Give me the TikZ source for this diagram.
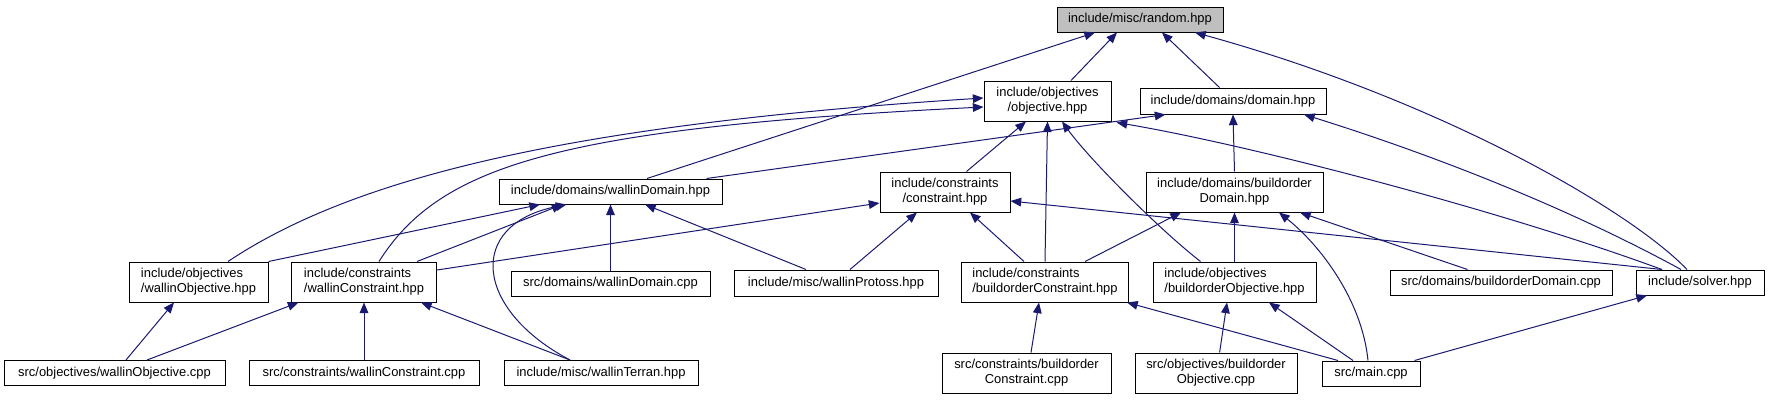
\documentclass[tikz,border=0pt]{standalone}
\usepackage{fontspec}
\setmainfont{Liberation Sans}
\usetikzlibrary{arrows.meta,calc}
\definecolor{edgeblue}{HTML}{191970}
\definecolor{rootgray}{HTML}{BFBFBF}
\begin{document}
\begin{tikzpicture}[x=0.75pt,y=-0.75pt,
  box/.style={draw=black, fill=white, line width=0.75pt, inner sep=0pt,
    font=\fontsize{9.7}{11.3}\selectfont},
  sz/.style 2 args={minimum width=#1*0.75pt, minimum height=#2*0.75pt},
  dep/.style={draw=edgeblue, line width=0.75pt, -{Triangle[length=8pt,width=6.5pt]}}]
\useasboundingbox (0,0) rectangle (1768,400);
% row 1
\node[box, fill=rootgray, sz={166}{25}] (rnd) at (1140,19.5) {include/misc/random.hpp};
% row 2
\node[box, sz={127}{40}, align=center] (obj) at (1047.5,101) {include/objectives\\/objective.hpp};
\node[box, sz={186}{26}] (dom) at (1233,101) {include/domains/domain.hpp};
% row 3
\node[box, sz={223}{25}] (wd) at (610.5,191.5) {include/domains/wallinDomain.hpp};
\node[box, sz={130}{40}, align=center] (con) at (945,192) {include/constraints\\/constraint.hpp};
\node[box, sz={177}{40}, align=center] (bd) at (1234.5,192) {include/domains/buildorder\\Domain.hpp};
% row 4
\node[box, sz={139}{40}, align=left] (wo) at (198.5,282) {include/objectives\\/wallinObjective.hpp};
\node[box, sz={145}{40}, align=left] (wc) at (364,282) {include/constraints\\/wallinConstraint.hpp};
\node[box, sz={199}{25}] (wdc) at (610.5,283.5) {src/domains/wallinDomain.cpp};
\node[box, sz={204}{26}] (wp) at (836,283) {include/misc/wallinProtoss.hpp};
\node[box, sz={167}{40}, align=left] (bc) at (1045,282) {include/constraints\\/buildorderConstraint.hpp};
\node[box, sz={163}{40}, align=left] (bo) at (1234.5,282) {include/objectives\\/buildorderObjective.hpp};
\node[box, sz={222}{25}] (bdc) at (1501,282.5) {src/domains/buildorderDomain.cpp};
\node[box, sz={128}{25}] (sol) at (1700,282.5) {include/solver.hpp};
% row 5
\node[box, sz={221}{25}] (woc) at (114.5,373) {src/objectives/wallinObjective.cpp};
\node[box, sz={230}{25}] (wcc) at (364,373) {src/constraints/wallinConstraint.cpp};
\node[box, sz={194}{25}] (wt) at (601,373) {include/misc/wallinTerran.hpp};
\node[box, sz={169}{40}, align=center] (bcc) at (1026.5,373) {src/constraints/buildorder\\Constraint.cpp};
\node[box, sz={162}{40}, align=center] (boc) at (1216,373) {src/objectives/buildorder\\Objective.cpp};
\node[box, sz={98}{25}] (main) at (1371,373.5) {src/main.cpp};
% edges
\draw[dep] ($(obj.north)+(23.5,0)$) -- ($(rnd.south)+(-23,0)$);
\draw[dep] ($(dom.north)+(-13.5,0)$) -- ($(rnd.south)+(22,0)$);
\draw[dep] ($(wd.north)+(36.5,0)$) -- ($(rnd.south)+(-45,0)$);
\draw[dep] ($(sol.north)+(-13,0)$) .. controls (1630,210) and (1440,100) .. ($(rnd.south)+(55,0)$);
\draw[dep] ($(wo.north)+(29.5,0)$) .. controls (350,180) and (560,125) .. ($(obj.west)+(0,-3)$);
\draw[dep] ($(wc.north)+(15,0)$) .. controls (440,165) and (560,128) .. ($(obj.west)+(0,6)$);
\draw[dep] ($(con.north)+(21.5,0)$) -- ($(obj.south)+(-21.5,0)$);
\draw[dep] (bc.north) -- (obj.south);
\draw[dep] ($(bo.north)+(-34,0)$) .. controls (1160,230) and (1090,160) .. ($(obj.south)+(14.5,0)$);
\draw[dep] ($(sol.north)+(-38,0)$) .. controls (1500,210) and (1250,145) .. ($(obj.south east)+(5,1)$);
\draw[dep] ($(wd.north east)+(-16,0)$) -- ($(dom.south)+(-67.5,0)$);
\draw[dep] (bd.north) -- (dom.south);
\draw[dep] ($(sol.north)+(-19,0)$) .. controls (1561,204) and (1424,152) .. ($(dom.south)+(71,0)$);
\draw[dep] (wo.north east) -- ($(wd.south)+(-70.5,0)$);
\draw[dep] ($(wc.north)+(53,0)$) -- ($(wd.south)+(-48,0)$);
\draw[dep] (wdc.north) -- (wd.south);
\draw[dep] ($(wp.north)+(-30,0)$) -- ($(wd.south)+(34.5,0)$);
\draw[dep] ($(wt.north)+(-31,0)$) .. controls (475,310) and (465,225) .. ($(wd.south)+(-44,0)$);
\draw[dep] ($(wc.east)+(0,-12)$) -- ($(con.west)+(0,11)$);
\draw[dep] ($(wp.north)+(14,0)$) -- ($(con.south)+(-28,0)$);
\draw[dep] ($(bc.north)+(-21,0)$) -- ($(con.south)+(25,0)$);
\draw[dep] ($(sol.north)+(-38,0)$) -- ($(con.east)+(0,9)$);
\draw[dep] ($(bc.north)+(40,0)$) -- ($(bd.south)+(-53.5,0)$);
\draw[dep] (bo.north) -- (bd.south);
\draw[dep] ($(main.north)+(-3,0)$) .. controls (1362,300) and (1320,245) .. ($(bd.south)+(44.5,0)$);
\draw[dep] ($(bdc.north)+(-33.5,0)$) -- ($(bd.south)+(65.5,0)$);
\draw[dep] ($(woc.north)+(11.5,0)$) -- ($(wo.south)+(-24.5,0)$);
\draw[dep] ($(woc.north)+(32.5,0)$) -- ($(wc.south)+(-65.5,0)$);
\draw[dep] (wcc.north) -- (wc.south);
\draw[dep] ($(wt.north)+(-31,0)$) -- ($(wc.south)+(57,0)$);
\draw[dep] ($(bcc.north)+(4.5,0)$) -- ($(bc.south)+(-6,0)$);
\draw[dep] ($(main.north)+(-33,0)$) -- ($(bc.south)+(82,0)$);
\draw[dep] ($(boc.north)+(3.6,0)$) -- ($(bo.south)+(-7.5,0)$);
\draw[dep] ($(main.north)+(-18,0)$) -- ($(bo.south)+(34.5,0)$);
\draw[dep] ($(main.north east)+(-6,0)$) -- ($(sol.south)+(-53,0)$);
\end{tikzpicture}
\end{document}
